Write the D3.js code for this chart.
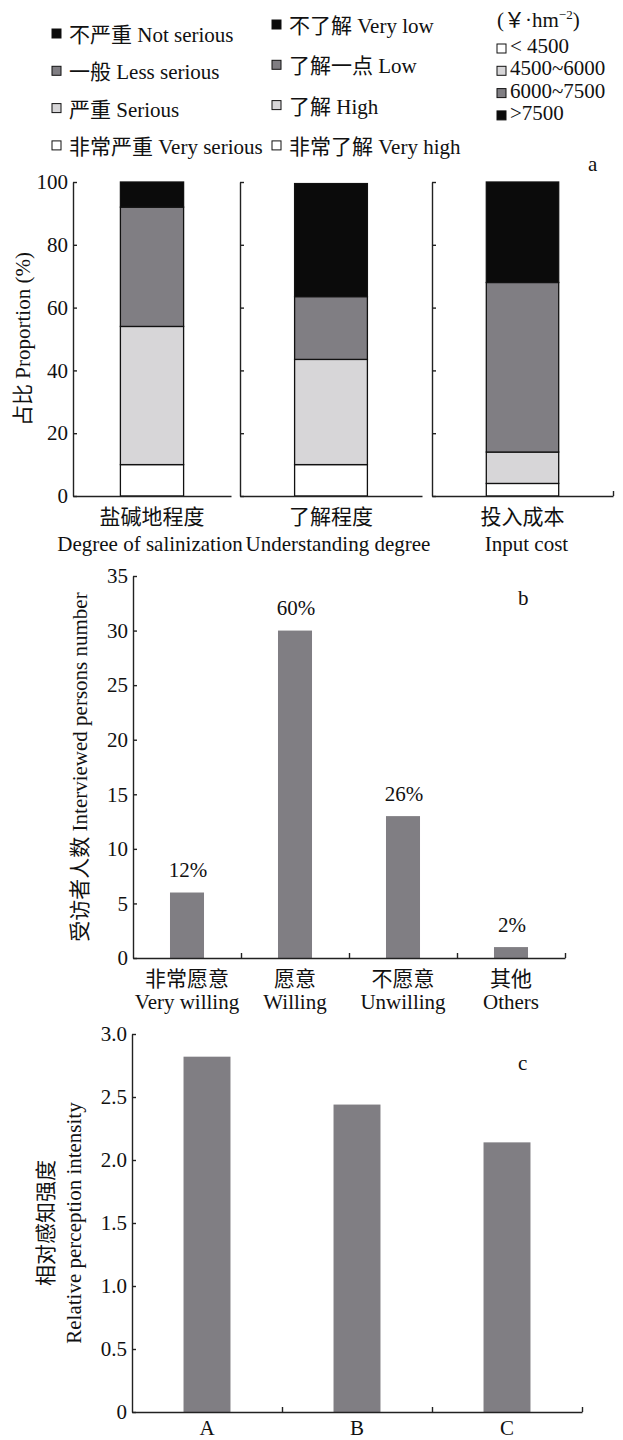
<!DOCTYPE html>
<html>
<head>
<meta charset="utf-8">
<script src="https://cdn.jsdelivr.net/npm/d3@7"></script>
<style>
  body { margin: 0; background: #fff; }
  svg text { font-family: "Liberation Serif", "Noto Sans CJK SC", serif; fill: #111; }
</style>
</head>
<body>
<div id="chart"></div>
<script>
// ---- 数据 ----
// a: 四个等级，从下到上
const aCategories = ["盐碱地程度", "了解程度", "投入成本"];
const aCategoriesEn = ["Degree of salinization", "Understanding degree", "Input cost"];
const salinization = [10, 44, 38, 8];      // 非常严重, 严重, 一般, 不严重
const understanding = [10, 33.5, 20, 36];  // 非常了解, 了解, 了解一点, 不了解
const inputCost = [4, 10, 54, 32];         // <4500, 4500~6000, 6000~7500, >7500
const aTicks = [0, 20, 40, 60, 80, 100];

const legendSerious = ["不严重 Not serious", "一般 Less serious", "严重 Serious", "非常严重 Very serious"];
const legendKnow = ["不了解 Very low", "了解一点 Low", "了解 High", "非常了解 Very high"];
const legendCost = ["< 4500", "4500~6000", "6000~7500", ">7500"];

// b: 受访者意愿
const bCategories = ["非常愿意", "愿意", "不愿意", "其他"];
const bCategoriesEn = ["Very willing", "Willing", "Unwilling", "Others"];
const bValues = [6, 30, 13, 1];
const bPercent = ["12%", "60%", "26%", "2%"];

// c: 相对感知强度
const cCategories = ["A", "B", "C"];
const cValues = [2.82, 2.44, 2.14];

// ---- 样式 ----
const BLACK = "#0b0b0b", DARK = "#807e83", LIGHT = "#d7d6d8", WHITE = "#ffffff";
const levelFill = [WHITE, LIGHT, DARK, BLACK]; // 从下到上
const FS = 21;

const svg = d3.select("#chart").append("svg").attr("width", 623).attr("height", 1440);

function styleAxis(g) {
  g.attr("font-family", null).attr("font-size", null);
  g.selectAll("path, line").attr("stroke", "#222").attr("stroke-width", 1.4);
  g.selectAll("text").style("font-size", FS + "px").attr("fill", "#111");
}

// ---- 图例 ----
function legendColumn(items, fills, x, y0, step) {
  const g = svg.append("g");
  items.forEach((t, i) => {
    const y = y0 + i * step;
    g.append("rect").attr("x", x).attr("y", y - 13).attr("width", 9).attr("height", 9)
      .attr("fill", fills[i]).attr("stroke", "#111").attr("stroke-width", 1);
    g.append("text").attr("x", x + 17).attr("y", y).style("font-size", FS + "px").text(t);
  });
}
legendColumn(legendSerious, [BLACK, DARK, LIGHT, WHITE], 52, 42, 37.3);
legendColumn(legendKnow, [BLACK, DARK, LIGHT, WHITE], 272, 33, 40.3);

const unit = svg.append("text").attr("x", 497).attr("y", 27).style("font-size", FS + "px");
unit.append("tspan").text("(￥·hm");
unit.append("tspan").attr("dy", -8).style("font-size", "13px").text("−2");
unit.append("tspan").attr("dy", 8).text(")");
svg.append("g").call(g => {
  legendCost.forEach((t, i) => {
    const y = 53 + i * 22.3;
    g.append("rect").attr("x", 497).attr("y", y - 9).attr("width", 9).attr("height", 9)
      .attr("fill", levelFill[i]).attr("stroke", "#111").attr("stroke-width", 1);
    g.append("text").attr("x", 510).attr("y", y).style("font-size", FS + "px").text(t);
  });
});

// ---- 图 a ----
const aPanels = [[73, 231], [240, 422], [432, 613]];
const aLabelShift = [-2, 7, 4]; // 英文标签微调，避免相互重叠
const aSeries = [salinization, understanding, inputCost];
const yA = d3.scaleLinear().domain([0, 100]).range([496, 182]);

svg.append("text").attr("x", 588).attr("y", 171).style("font-size", FS + "px").text("a");

aPanels.forEach((ext, p) => {
  const g = svg.append("g");
  const x = d3.scaleBand().domain([aCategories[p]]).range(ext).paddingOuter(0.75);

  // 堆叠
  const row = {};
  aSeries[p].forEach((v, i) => row["k" + i] = v);
  const stacked = d3.stack().keys(aSeries[p].map((v, i) => "k" + i))([row]);
  g.selectAll("rect").data(stacked).join("rect")
    .attr("x", x(aCategories[p]))
    .attr("width", x.bandwidth())
    .attr("y", d => yA(d[0][1]))
    .attr("height", d => yA(d[0][0]) - yA(d[0][1]))
    .attr("fill", (d, i) => levelFill[i])
    .attr("stroke", "#111").attr("stroke-width", 1.3);

  // y 轴
  const ax = d3.axisLeft(yA).tickValues(aTicks).tickSize(-4).tickSizeOuter(0).tickPadding(5);
  if (p > 0) ax.tickFormat("");
  g.append("g").attr("transform", `translate(${ext[0]},0)`).call(ax).call(styleAxis);

  // x 轴
  const xl = d3.scaleLinear().domain(ext).range(ext);
  const bx = d3.axisBottom(xl).tickValues(p === 2 ? [ext[1]] : []).tickSize(-5).tickSizeOuter(0).tickFormat("");
  g.append("g").attr("transform", `translate(0,${yA(0)})`).call(bx).call(styleAxis);

  const cx = x(aCategories[p]) + x.bandwidth() / 2;
  g.append("text").attr("x", cx).attr("y", 524).attr("text-anchor", "middle")
    .style("font-size", FS + "px").text(aCategories[p]);
  g.append("text").attr("x", cx + aLabelShift[p]).attr("y", 551).attr("text-anchor", "middle")
    .style("font-size", FS + "px").text(aCategoriesEn[p]);
});

svg.append("text").attr("transform", `translate(30,339) rotate(-90)`).attr("text-anchor", "middle")
  .style("font-size", FS + "px").text("占比 Proportion (%)");

// ---- 图 b ----
{
  const g = svg.append("g");
  const x = d3.scaleBand().domain(bCategories).range([133, 565]).paddingInner(0.685).paddingOuter(0.3425);
  const y = d3.scaleLinear().domain([0, 35]).range([958, 576]);
  const step = x.step();

  g.selectAll("rect").data(bValues).join("rect")
    .attr("x", (d, i) => x(bCategories[i]))
    .attr("width", x.bandwidth())
    .attr("y", d => y(d))
    .attr("height", d => y(0) - y(d))
    .attr("fill", DARK);

  g.selectAll(".pct").data(bValues).join("text")
    .attr("x", (d, i) => x(bCategories[i]) + x.bandwidth() / 2 + 1)
    .attr("y", d => y(d) - 15.5)
    .attr("text-anchor", "middle").style("font-size", FS + "px")
    .text((d, i) => bPercent[i]);

  g.append("g").attr("transform", "translate(133,0)")
    .call(d3.axisLeft(y).ticks(7).tickSize(-4).tickSizeOuter(0).tickPadding(5)).call(styleAxis);

  const edges = bCategories.map((c, i) => 133 + (i + 1) * step);
  const xl = d3.scaleLinear().domain([133, 565]).range([133, 565]);
  g.append("g").attr("transform", `translate(0,${y(0)})`)
    .call(d3.axisBottom(xl).tickValues(edges).tickSize(-5).tickSizeOuter(0).tickFormat("")).call(styleAxis);

  bCategories.forEach((c, i) => {
    const cx = x(c) + x.bandwidth() / 2;
    g.append("text").attr("x", cx).attr("y", 986).attr("text-anchor", "middle").style("font-size", FS + "px").text(c);
    g.append("text").attr("x", cx).attr("y", 1009).attr("text-anchor", "middle").style("font-size", FS + "px").text(bCategoriesEn[i]);
  });

  g.append("text").attr("x", 518).attr("y", 605).style("font-size", FS + "px").text("b");
  g.append("text").attr("transform", `translate(87,767) rotate(-90)`).attr("text-anchor", "middle")
    .style("font-size", FS + "px").text("受访者人数 Interviewed persons number");
}

// ---- 图 c ----
{
  const g = svg.append("g");
  const x = d3.scaleBand().domain(cCategories).range([132, 582]).paddingInner(0.687).paddingOuter(0.3435);
  const y = d3.scaleLinear().domain([0, 3]).range([1412, 1034]);
  const step = x.step();

  g.selectAll("rect").data(cValues).join("rect")
    .attr("x", (d, i) => x(cCategories[i]))
    .attr("width", x.bandwidth())
    .attr("y", d => y(d))
    .attr("height", d => y(0) - y(d))
    .attr("fill", DARK);

  g.append("g").attr("transform", "translate(132,0)")
    .call(d3.axisLeft(y).ticks(6).tickSize(-4).tickSizeOuter(0).tickPadding(5)
      .tickFormat(d => d === 0 ? "0" : d.toFixed(1))).call(styleAxis);

  const edges = cCategories.map((c, i) => 132 + (i + 1) * step);
  const xl = d3.scaleLinear().domain([132, 582]).range([132, 582]);
  g.append("g").attr("transform", `translate(0,${y(0)})`)
    .call(d3.axisBottom(xl).tickValues(edges).tickSize(-5).tickSizeOuter(0).tickFormat("")).call(styleAxis);

  cCategories.forEach(c => {
    g.append("text").attr("x", x(c) + x.bandwidth() / 2).attr("y", 1435).attr("text-anchor", "middle")
      .style("font-size", FS + "px").text(c);
  });

  g.append("text").attr("x", 518).attr("y", 1070).style("font-size", FS + "px").text("c");
  g.append("text").attr("transform", `translate(53,1223) rotate(-90)`).attr("text-anchor", "middle")
    .style("font-size", FS + "px").text("相对感知强度");
  g.append("text").attr("transform", `translate(81,1223) rotate(-90)`).attr("text-anchor", "middle")
    .style("font-size", FS + "px").text("Relative perception intensity");
}
</script>
</body>
</html>
